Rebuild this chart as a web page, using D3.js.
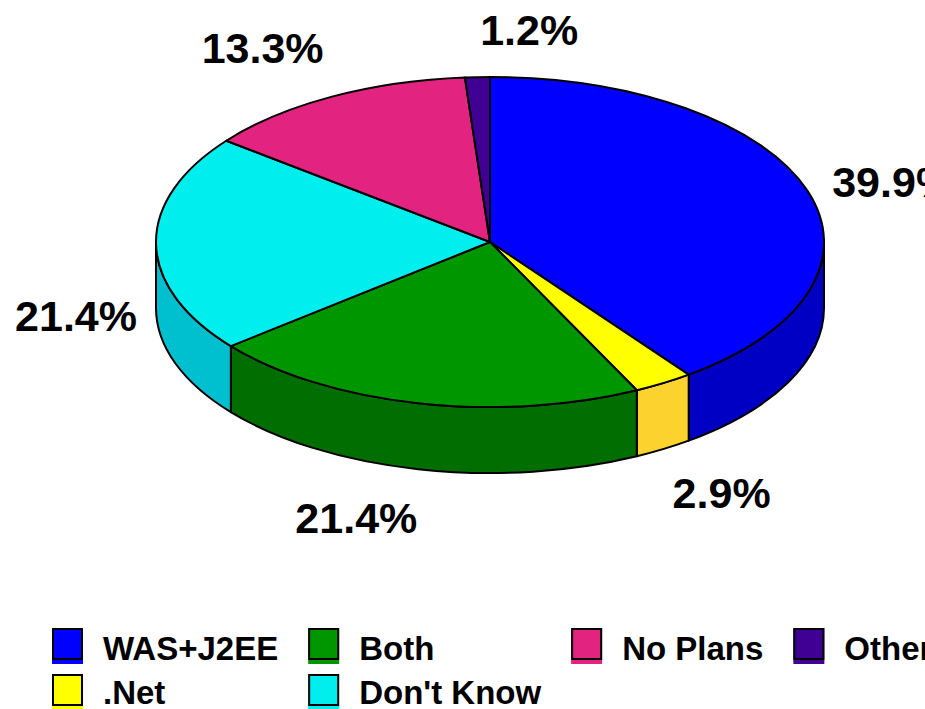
<!DOCTYPE html>
<html>
<head>
<meta charset="utf-8">
<script src="https://cdn.jsdelivr.net/npm/d3@7"></script>
<style>
  body { margin: 0; background: #fff; }
  text { font-family: "Liberation Sans", Arial, sans-serif; font-weight: bold; fill: #000; }
</style>
</head>
<body>
<svg id="chart" width="925" height="709"></svg>
<script>
// slice data, clockwise from 12 o'clock
var categories = ["WAS+J2EE", ".Net", "Both", "Don't Know", "No Plans", "Other"];
var values = [39.9, 2.9, 21.4, 21.4, 13.3, 1.2];
var labels = ["39.9%", "2.9%", "21.4%", "21.4%", "13.3%", "1.2%"];

// legend rows as laid out in the picture
var legendRows = [
    ["WAS+J2EE", "Both", "No Plans", "Other"],
    [".Net", "Don't Know"]
];

var topColors = ["#0000ff", "#ffff00", "#009600", "#00eeee", "#e2237f", "#400094"];
var sideColors = ["#0000c4", "#fbd22e", "#006e00", "#00bfcf", "#b01a63", "#300070"];

// small per-label nudges off the radial position
var labelNudge = [[29, 19], [27, 25], [-49, 25], [-20, 21], [-41, 2], [54, 8]];

var svg = d3.select("#chart");

var cx = 490, cy = 242, rx = 334, ry = 165, depth = 66;

var color = d3.scaleOrdinal().domain(categories).range(topColors);
var sideColor = d3.scaleOrdinal().domain(categories).range(sideColors);

var pie = d3.pie().sort(null).value(function(d) { return d.value; });
var arcs = pie(categories.map(function(c, i) { return { name: c, value: values[i], label: labels[i] }; }));

function pt(a, dy) {
    return [cx + rx * Math.sin(a), cy - ry * Math.cos(a) + (dy || 0)];
}

function topPath(d) {
    var s = pt(d.startAngle), e = pt(d.endAngle);
    var large = (d.endAngle - d.startAngle) > Math.PI ? 1 : 0;
    return "M" + cx + "," + cy + "L" + s + "A" + rx + "," + ry + " 0 " + large + " 1 " + e + "Z";
}

function sidePath(d) {
    var a0 = Math.max(d.startAngle, Math.PI / 2),
        a1 = Math.min(d.endAngle, 3 * Math.PI / 2);
    if (a1 <= a0) return null;
    var s = pt(a0), e = pt(a1), eb = pt(a1, depth), sb = pt(a0, depth);
    return "M" + s + "A" + rx + "," + ry + " 0 0 1 " + e +
        "L" + eb + "A" + rx + "," + ry + " 0 0 0 " + sb + "Z";
}

// sides first
svg.append("g")
    .attr("class", "sides")
  .selectAll("path")
  .data(arcs.filter(function(d) { return sidePath(d) !== null; }))
  .enter().append("path")
    .attr("d", sidePath)
    .attr("fill", function(d) { return sideColor(d.data.name); })
    .attr("stroke", "#000")
    .attr("stroke-width", 2)
    .attr("stroke-linejoin", "round");

svg.append("g")
    .attr("class", "tops")
  .selectAll("path")
  .data(arcs)
  .enter().append("path")
    .attr("d", topPath)
    .attr("fill", function(d) { return color(d.data.name); })
    .attr("stroke", "#000")
    .attr("stroke-width", 2)
    .attr("stroke-linejoin", "round");

// percent labels
svg.append("g")
    .attr("class", "labels")
  .selectAll("text")
  .data(arcs)
  .enter().append("text")
    .attr("x", function(d, i) {
        var m = (d.startAngle + d.endAngle) / 2;
        return cx + (rx + 60) * Math.sin(m) + labelNudge[i][0];
    })
    .attr("y", function(d, i) {
        var m = (d.startAngle + d.endAngle) / 2;
        var c = Math.cos(m);
        return cy - (ry + 40) * c + (c < 0 ? depth : 0) + labelNudge[i][1];
    })
    .attr("text-anchor", "middle")
    .attr("font-size", 43)
    .text(function(d) { return d.data.label; });

// legend: columns sized by widest text
var legend = svg.append("g").attr("class", "legend");
var sw = 31, sh = 32, rowGap = 46, textGap = 51, colGap = 30;
var x0 = 52, y0 = 628;

var nCols = d3.max(legendRows, function(r) { return r.length; });
var colX = [x0];
for (var c = 0; c < nCols; c++) {
    var maxW = 0;
    legendRows.forEach(function(row, r) {
        if (row[c] === undefined) return;
        var g = legend.append("g").attr("transform", "translate(" + colX[c] + "," + (y0 + r * rowGap) + ")");
        g.append("rect")
            .attr("x", 0).attr("y", 0)
            .attr("width", sw).attr("height", sh + 4)
            .attr("fill", color(row[c]));
        g.append("rect")
            .attr("x", 1).attr("y", 1)
            .attr("width", sw - 2).attr("height", sh - 2)
            .attr("fill", color(row[c]))
            .attr("stroke", "#000")
            .attr("stroke-width", 2);
        var t = g.append("text")
            .attr("x", textGap)
            .attr("y", sh - r * 2)
            .attr("font-size", 33)
            .text(row[c]);
        maxW = Math.max(maxW, t.node().getComputedTextLength());
    });
    colX.push(colX[c] + textGap + maxW + colGap);
}
</script>
</body>
</html>
